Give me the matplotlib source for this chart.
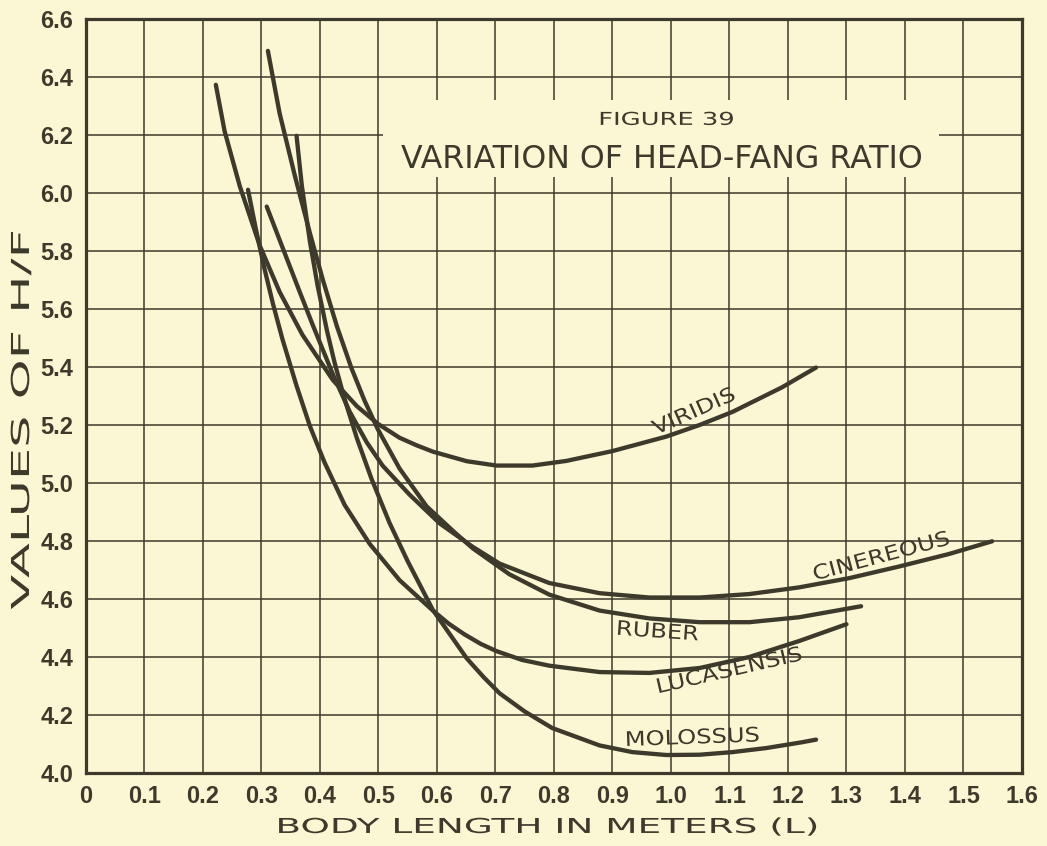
import matplotlib
matplotlib.use("Agg")
import matplotlib.pyplot as plt
from matplotlib.patches import Rectangle
from matplotlib.patheffects import AbstractPathEffect
from matplotlib.transforms import Affine2D

# values (body length in m, H/F ratio)
viridis_x = [0.222, 0.237, 0.263, 0.297, 0.331, 0.370, 0.422, 0.463, 0.499, 0.536, 0.565,
             0.593, 0.651, 0.702, 0.763, 0.821, 0.900, 0.992, 1.049, 1.105, 1.190, 1.248]
viridis_y = [6.373, 6.213, 6.023, 5.819, 5.659, 5.511, 5.355, 5.265, 5.204, 5.156, 5.130,
             5.108, 5.075, 5.060, 5.060, 5.076, 5.110, 5.160, 5.200, 5.245, 5.330, 5.398]

cinereous_x = [0.309, 0.336, 0.365, 0.388, 0.422, 0.451, 0.480, 0.507, 0.553, 0.605, 0.661,
               0.707, 0.792, 0.878, 0.963, 1.049, 1.134, 1.219, 1.305, 1.390, 1.475, 1.549]
cinereous_y = [5.953, 5.812, 5.661, 5.543, 5.375, 5.245, 5.140, 5.060, 4.960, 4.860, 4.780,
               4.722, 4.655, 4.620, 4.605, 4.605, 4.617, 4.640, 4.672, 4.712, 4.755, 4.799]

ruber_x = [0.311, 0.331, 0.357, 0.383, 0.405, 0.429, 0.454, 0.476, 0.499, 0.536, 0.582,
           0.630, 0.661, 0.724, 0.792, 0.878, 0.963, 1.049, 1.134, 1.219, 1.325]
ruber_y = [6.490, 6.275, 6.060, 5.860, 5.700, 5.540, 5.395, 5.285, 5.185, 5.050, 4.920,
           4.830, 4.775, 4.685, 4.615, 4.560, 4.533, 4.520, 4.520, 4.537, 4.575]

lucasensis_x = [0.277, 0.290, 0.305, 0.320, 0.336, 0.360, 0.383, 0.408, 0.442, 0.485, 0.536,
                0.593, 0.620, 0.647, 0.675, 0.702, 0.745, 0.792, 0.878, 0.963, 1.049, 1.134,
                1.219, 1.300]
lucasensis_y = [6.011, 5.880, 5.740, 5.615, 5.495, 5.335, 5.195, 5.070, 4.925, 4.790, 4.665,
                4.560, 4.515, 4.478, 4.445, 4.420, 4.390, 4.370, 4.348, 4.345, 4.362, 4.400,
                4.455, 4.513]

molossus_x = [0.360, 0.369, 0.383, 0.396, 0.412, 0.425, 0.442, 0.463, 0.488, 0.519, 0.550,
              0.593, 0.651, 0.680, 0.707, 0.750, 0.797, 0.878, 0.934, 0.992, 1.049, 1.105,
              1.163, 1.224, 1.248]
molossus_y = [6.197, 6.025, 5.830, 5.680, 5.525, 5.415, 5.290, 5.155, 5.015, 4.862, 4.730,
              4.562, 4.395, 4.330, 4.275, 4.212, 4.155, 4.095, 4.072, 4.062, 4.063, 4.072,
              4.086, 4.106, 4.115]

x_ticks = [0, 0.1, 0.2, 0.3, 0.4, 0.5, 0.6, 0.7, 0.8, 0.9, 1.0, 1.1, 1.2, 1.3, 1.4, 1.5, 1.6]
x_tick_labels = ["0", "0.1", "0.2", "0.3", "0.4", "0.5", "0.6", "0.7", "0.8", "0.9",
                 "1.0", "1.1", "1.2", "1.3", "1.4", "1.5", "1.6"]
y_ticks = [4.0, 4.2, 4.4, 4.6, 4.8, 5.0, 5.2, 5.4, 5.6, 5.8, 6.0, 6.2, 6.4, 6.6]
y_tick_labels = ["4.0", "4.2", "4.4", "4.6", "4.8", "5.0", "5.2", "5.4", "5.6", "5.8",
                 "6.0", "6.2", "6.4", "6.6"]

bg = "#fbf6d3"
ink = "#3d3a2b"


class Widen(AbstractPathEffect):
    # stretches text sideways about its middle, like the spaced-out lettering
    def __init__(self, sx):
        super().__init__()
        self.sx = sx

    def draw_path(self, renderer, gc, tpath, affine, rgbFace=None):
        ext = tpath.get_extents()
        cx = (ext.x0 + ext.x1) / 2
        t = Affine2D().translate(-cx, 0).scale(self.sx, 1).translate(cx, 0) + affine
        renderer.draw_path(gc, tpath, t, rgbFace)


fig = plt.figure(figsize=(10.47, 8.46), dpi=100, facecolor=bg)
ax = fig.add_axes([0.0821, 0.0863, 0.894, 0.8913], facecolor=bg)
ax.set_xlim(0, 1.6)
ax.set_ylim(4.0, 6.6)
ax.set_xticks(x_ticks)
ax.set_xticklabels(x_tick_labels)
ax.set_yticks(y_ticks)
ax.set_yticklabels(y_tick_labels)
ax.tick_params(length=0, pad=9, labelsize=17, labelcolor=ink)
for lbl in ax.get_xticklabels() + ax.get_yticklabels():
    lbl.set_family("Liberation Sans")
    lbl.set_weight("bold")
ax.set_axisbelow(True)
ax.grid(True, color=ink, lw=1.1)
for s in ax.spines.values():
    s.set_linewidth(2.3)
    s.set_color(ink)

# plain patch behind the title, the grid is left out there
ax.add_patch(Rectangle((0.507, 6.056), 0.951, 0.265, facecolor=bg, edgecolor="none", zorder=1))

curves = [(viridis_x, viridis_y), (cinereous_x, cinereous_y), (ruber_x, ruber_y),
          (lucasensis_x, lucasensis_y), (molossus_x, molossus_y)]
for cx, cy in curves:
    ax.plot(cx, cy, color=ink, lw=3.1, solid_capstyle="round", solid_joinstyle="round", zorder=3)

lab = dict(ha="center", va="center", color=ink, fontsize=14.5, rotation_mode="anchor",
           path_effects=[Widen(1.2)], zorder=4)
ax.text(1.04, 5.245, "VIRIDIS", rotation=24, **lab)
ax.text(1.36, 4.745, "CINEREOUS", rotation=15, **lab)
ax.text(0.977, 4.486, "RUBER", rotation=-4, **lab)
ax.text(1.10, 4.351, "LUCASENSIS", rotation=13, **lab)
ax.text(1.037, 4.120, "MOLOSSUS", rotation=2, **lab)

ax.text(0.992, 6.252, "FIGURE 39", ha="center", va="center", color=ink, fontsize=12.8,
        path_effects=[Widen(1.45)], zorder=4)
ax.text(0.985, 6.114, "VARIATION OF HEAD-FANG RATIO", ha="center", va="center", color=ink,
        fontsize=22.8, zorder=4)

fig.text(0.5225, 0.0225, "BODY LENGTH IN METERS (L)", ha="center", va="center", color=ink,
         fontsize=14.8, path_effects=[Widen(1.82)])
fig.text(0.021, 0.5035, "VALUES OF H/F", ha="center", va="center", rotation=90, color=ink,
         fontsize=17.8, path_effects=[Widen(2.06)])

fig.savefig("out.png", dpi=100, facecolor=bg)
